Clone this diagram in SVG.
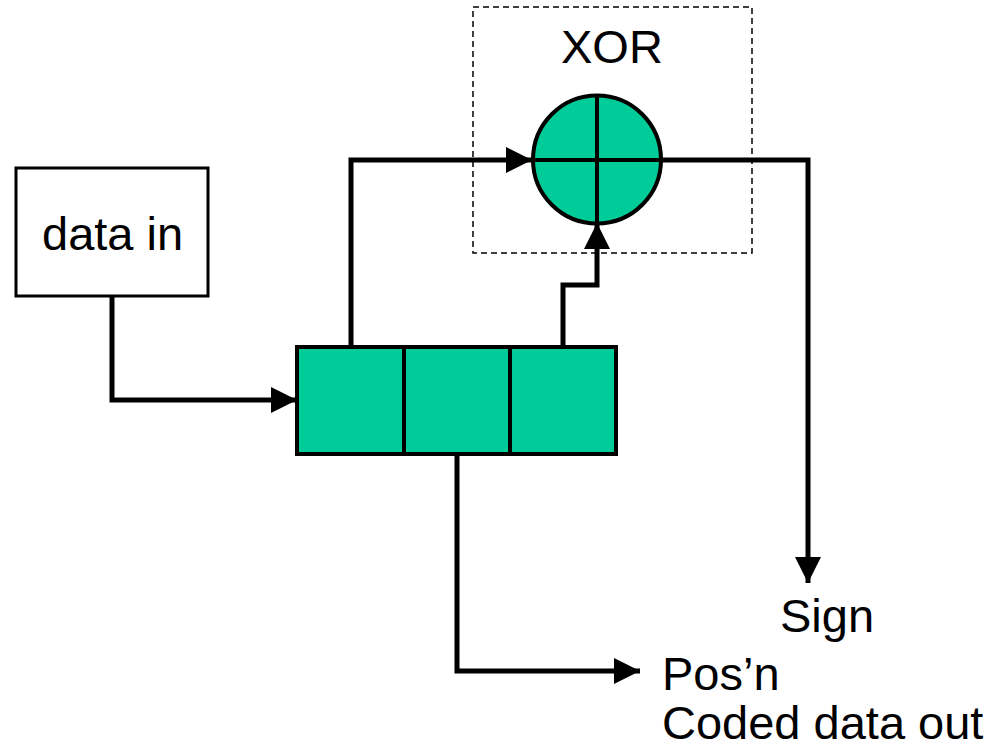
<svg xmlns="http://www.w3.org/2000/svg" width="999" height="750" viewBox="0 0 999 750">
<style>
text{font-family:"Liberation Sans",Arial,sans-serif;font-size:47px;fill:#000}
.conn{fill:none;stroke:#000;stroke-width:5;stroke-linejoin:miter;marker-end:url(#ah)}
.reg{fill:#00CC99;stroke:#000;stroke-width:4}
</style>
<defs>
<marker id="ah" markerUnits="userSpaceOnUse" markerWidth="26" markerHeight="26" refX="26" refY="13" orient="auto" viewBox="0 0 26 26">
<path d="M0,0 L26,13 L0,26 z" fill="#000"/>
</marker>
</defs>
<rect width="999" height="750" fill="#fff"/>
<g id="xor-box">
<rect x="473" y="7" width="279" height="246" fill="none" stroke="#000" stroke-width="1.5" stroke-dasharray="6,4"/>
<text x="561" y="63">XOR</text>
</g>
<g id="connectors">
<path class="conn" d="M112,296 V400 H297"/>
<path class="conn" d="M351,347 V160 H532"/>
<path class="conn" d="M563,347 V285 H597 V223"/>
<path class="conn" d="M662,160 H808 V583"/>
<path class="conn" d="M457,454 V671 H640"/>
</g>
<g id="xor">
<circle cx="597" cy="159.5" r="64" fill="#00CC99" stroke="#000" stroke-width="4"/>
<path d="M533,160 H661 M597,96 V223" stroke="#000" stroke-width="4"/>
</g>
<g id="data-in">
<rect x="16" y="168" width="192" height="128" fill="#fff" stroke="#000" stroke-width="3"/>
<text x="42" y="250">data in</text>
</g>
<g id="register">
<rect class="reg" x="297" y="347" width="319" height="107"/>
<path d="M404,347 V454 M510,347 V454" stroke="#000" stroke-width="4"/>
</g>
<g id="labels">
<text x="780" y="632">Sign</text>
<text x="662" y="690">Pos’n</text>
<text x="662" y="739">Coded data out</text>
</g>
</svg>
